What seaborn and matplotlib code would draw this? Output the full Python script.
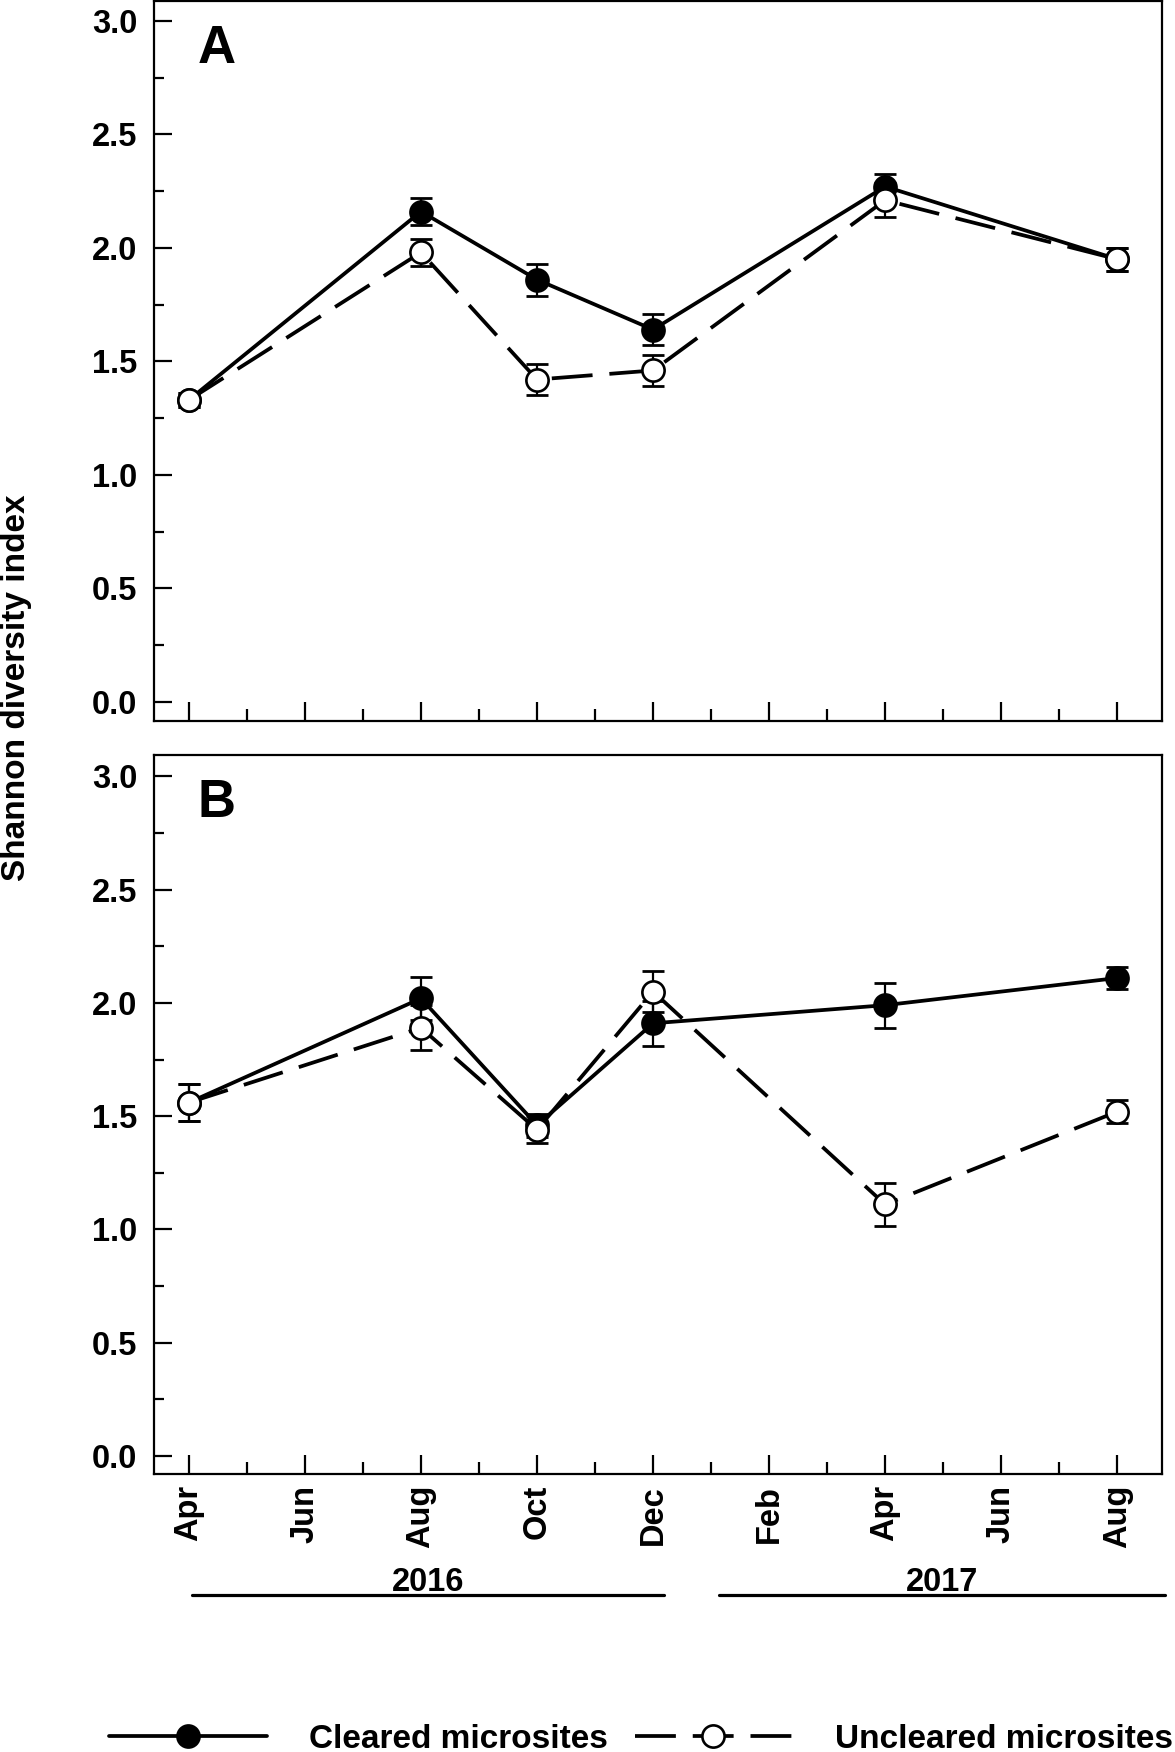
import pandas as pd
import matplotlib
matplotlib.use('Agg')
import matplotlib.pyplot as plt
import matplotlib.transforms as mtransforms
from matplotlib.lines import Line2D
from matplotlib.ticker import FixedLocator, MultipleLocator, FormatStrFormatter
import seaborn as sns

# meses contados desde abril 2016
months = [0, 4, 6, 8, 12, 16]
tick_labels = ['Apr', 'Jun', 'Aug', 'Oct', 'Dec', 'Feb', 'Apr', 'Jun', 'Aug']

# Panel A (media y error estandar)
a_cleared = [1.33, 2.16, 1.86, 1.64, 2.27, 1.95]
a_cleared_se = [0.03, 0.06, 0.07, 0.07, 0.055, 0.05]
a_uncleared = [1.33, 1.98, 1.42, 1.46, 2.21, 1.95]
a_uncleared_se = [0.03, 0.06, 0.07, 0.07, 0.075, 0.05]

# Panel B
b_cleared = [1.56, 2.02, 1.46, 1.91, 1.99, 2.11]
b_cleared_se = [0.08, 0.095, 0.05, 0.10, 0.10, 0.05]
b_uncleared = [1.56, 1.89, 1.44, 2.05, 1.11, 1.52]
b_uncleared_se = [0.08, 0.10, 0.06, 0.09, 0.095, 0.05]

years = ['2016', '2017']
year_spans = [(0.06, 8.19), (9.13, 16.83)]

legend_labels = ['Cleared microsites', 'Uncleared microsites']

LW = 2.7
DASH = (0, (10.9, 4.5))
MS = 16


def draw_panel(ax, cl, cl_se, un, un_se, letter):
    df = pd.DataFrame({'month': months, 'cleared': cl, 'uncleared': un})
    ax.errorbar(months, cl, yerr=cl_se, fmt='none', ecolor='black',
                elinewidth=1.6, capsize=8, capthick=2, zorder=2)
    sns.lineplot(data=df, x='month', y='cleared', ax=ax, color='black',
                 linewidth=LW, marker='o', markersize=MS,
                 markerfacecolor='black', markeredgecolor='black',
                 markeredgewidth=1.8, zorder=3, legend=False)
    ax.errorbar(months, un, yerr=un_se, fmt='none', ecolor='black',
                elinewidth=1.6, capsize=8, capthick=2, zorder=4)
    sns.lineplot(data=df, x='month', y='uncleared', ax=ax, color='black',
                 linewidth=LW, linestyle=DASH, marker='o', markersize=MS,
                 markerfacecolor='white', markeredgecolor='black',
                 markeredgewidth=1.9, zorder=5, legend=False)
    ax.set_xlabel('')
    ax.set_ylabel('')
    ax.set_xlim(-0.6, 16.77)
    ax.xaxis.set_major_locator(FixedLocator(list(range(0, 17, 2))))
    ax.xaxis.set_minor_locator(FixedLocator(list(range(1, 17, 2))))
    ax.yaxis.set_major_locator(MultipleLocator(0.5))
    ax.yaxis.set_minor_locator(MultipleLocator(0.25))
    ax.yaxis.set_major_formatter(FormatStrFormatter('%.1f'))
    ax.tick_params(which='both', direction='in', width=1.6, top=False,
                   right=False, colors='black')
    ax.tick_params(axis='x', which='major', length=13.5)
    ax.tick_params(axis='x', which='minor', length=8.5)
    ax.tick_params(axis='y', which='major', length=13, labelsize=23.5, pad=12)
    ax.tick_params(axis='y', which='minor', length=7)
    for s in ax.spines.values():
        s.set_linewidth(1.6)
        s.set_color('black')
    ax.text(0.043, 0.914, letter, transform=ax.transAxes, fontsize=38,
            fontweight='bold', va='baseline', ha='left', color='black')


sns.set_style('ticks')
plt.rcParams['font.family'] = ['Liberation Sans', 'DejaVu Sans']
plt.rcParams['font.weight'] = 'bold'
plt.rcParams['text.color'] = 'black'

fig = plt.figure(figsize=(11.75, 17.52), dpi=100)
ax_a = fig.add_axes([0.1311, 0.5885, 0.8578, 0.4110])
ax_b = fig.add_axes([0.1311, 0.1587, 0.8578, 0.4104])

draw_panel(ax_a, a_cleared, a_cleared_se, a_uncleared, a_uncleared_se, 'A')
draw_panel(ax_b, b_cleared, b_cleared_se, b_uncleared, b_uncleared_se, 'B')

ax_a.set_ylim(-0.084, 3.088)
ax_b.set_ylim(-0.08, 3.095)
ax_a.tick_params(axis='x', labelbottom=False)
ax_b.set_xticks(list(range(0, 17, 2)))
ax_b.set_xticklabels(tick_labels, rotation=90, fontsize=23.5, fontweight='bold')
ax_b.tick_params(axis='x', pad=8)

# años debajo del eje
trans = mtransforms.blended_transform_factory(ax_b.transData, ax_b.transAxes)
for yr, (x0, x1) in zip(years, year_spans):
    ax_b.plot([x0, x1], [-0.1685, -0.1685], color='black', lw=2.3,
              transform=trans, clip_on=False)
    ax_b.text((x0 + x1) / 2, -0.1627, yr, transform=trans, ha='center',
              va='baseline', fontsize=23.5, fontweight='bold')

fig.text(0.001, 0.6073, 'Shannon diversity index', rotation=90, fontsize=24,
         fontweight='bold', ha='left', va='center')

handles = [
    Line2D([], [], color='black', lw=LW, marker='o', ms=MS,
           mfc='black', mec='black', mew=1.8),
    Line2D([], [], color='black', lw=LW, ls=DASH, marker='o', ms=MS,
           mfc='white', mec='black', mew=1.9),
]
fig.legend(handles, legend_labels, loc='center left',
           bbox_to_anchor=(109 / 1175, 1 - 1739 / 1752), ncol=2, frameon=False,
           prop={'weight': 'bold', 'size': 24}, handlelength=4.73,
           handletextpad=1.27, columnspacing=0.8, borderaxespad=0, borderpad=0)

fig.savefig('out.png', dpi=100)
